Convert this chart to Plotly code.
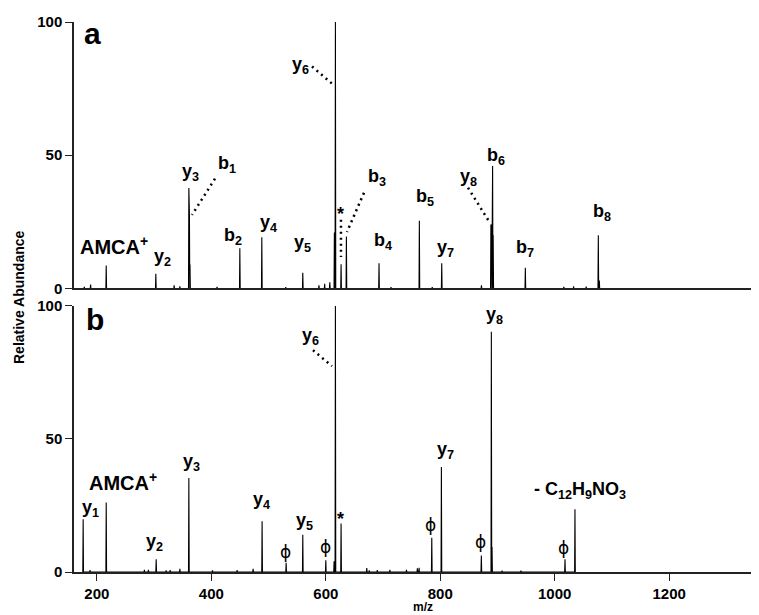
import plotly.graph_objects as go

# ---------------- data (m/z, relative abundance) ----------------
mz_a = [178, 189, 216.3, 303, 335, 345, 360.7, 361.7, 362.7, 410, 449.8, 488.2, 530,
        559.8, 588, 598, 607, 615, 616.8, 626.7, 636, 693, 714, 763.5, 786, 802.6,
        872, 888.5, 889.5, 890.5, 891.5, 892.5, 948.7, 1016, 1033, 1055, 1076.2, 1078]
int_a = [0.6, 1.5, 8.6, 5.5, 1.2, 0.8, 37.7, 28, 9, 0.6, 15.1, 19.2, 0.5,
         5.9, 1.2, 1.8, 2.3, 21, 100, 9.1, 19.5, 9.5, 0.5, 25.4, 0.5, 9.5,
         1.2, 24, 23.5, 23, 46, 20, 7.8, 0.6, 0.8, 0.7, 20, 3]

mz_b = [176, 188, 216.3, 283, 290, 303.6, 321, 328, 345, 360.7, 402, 445, 473,
        488.7, 530.7, 559.8, 600, 614.5, 616.8, 626.7, 671.6, 676, 690, 712, 741,
        760, 763, 785.2, 802, 871.8, 889.3, 890.5, 908, 941, 1018, 1035.4]
int_b = [19.8, 0.7, 26.1, 0.8, 0.8, 4.8, 0.6, 0.7, 1.2, 35.3, 0.6, 0.7, 1.2,
         19.1, 3.5, 14, 4.4, 4, 100, 18.2, 1.5, 0.6, 0.7, 0.8, 0.8,
         1.4, 1.6, 12.9, 39.4, 6.2, 90.2, 9.4, 0.5, 0.5, 4.8, 23.6]

# annotations: (text, m/z, intensity)
labels_a = [("a", 191.5, 95.5), ("y<sub>6</sub>", 556, 83.5), ("y<sub>3</sub>", 363, 43.5),
            ("b<sub>1</sub>", 428, 46.5), ("b<sub>2</sub>", 438, 19.5), ("y<sub>4</sub>", 499, 24.5),
            ("AMCA<sup>+</sup>", 230, 16), ("y<sub>2</sub>", 314, 11.5), ("y<sub>5</sub>", 560, 17),
            ("*", 626.5, 28), ("b<sub>3</sub>", 690, 41.5), ("b<sub>4</sub>", 700, 17.5),
            ("b<sub>5</sub>", 774, 34), ("y<sub>7</sub>", 810, 15), ("y<sub>8</sub>", 850, 41.5),
            ("b<sub>6</sub>", 897.5, 49.5), ("b<sub>7</sub>", 948, 15), ("b<sub>8</sub>", 1083, 28.5)]
leaders_a = [(575.9, 83.3, 610.8, 76.9), (406.4, 41.2, 366.2, 27.6), (626.5, 25.8, 626.5, 11.8),
             (666.7, 35.9, 637.0, 21.2), (848.5, 37.8, 886.9, 24.6)]

labels_b = [("b", 196.7, 95), ("y<sub>6</sub>", 573, 88.5), ("AMCA<sup>+</sup>", 246, 34),
            ("y<sub>1</sub>", 188, 24), ("y<sub>3</sub>", 364.5, 41), ("y<sub>2</sub>", 301.5, 11),
            ("y<sub>4</sub>", 487, 27), ("ϕ", 530.4, 7.4), ("y<sub>5</sub>", 562, 19),
            ("ϕ", 599.8, 9.3), ("*", 626.5, 20), ("y<sub>8</sub>", 894, 96.5),
            ("y<sub>7</sub>", 808.5, 45.5), ("ϕ", 782.6, 17.6), ("ϕ", 870, 11.2),
            ("ϕ", 1016.2, 8.9), ("- C<sub>12</sub>H<sub>9</sub>NO<sub>3</sub>", 1044, 30.5)]
leaders_b = [(577.6, 83.3, 610.8, 77.3)]

x_ticks = [200, 400, 600, 800, 1000, 1200]
y_ticks = [0, 50, 100]


def stick_trace(mz, inten, xa, ya, hw=0.6):
    xs, ys = [], []
    for m, v in sorted(zip(mz, inten)):
        xs += [m - hw, m, m + hw]
        ys += [0, v, 0]
    return go.Scatter(x=xs, y=ys, mode="lines", xaxis=xa, yaxis=ya,
                      line=dict(color="black", width=1.1), hoverinfo="skip")


fig = go.Figure()
fig.add_trace(stick_trace(mz_a, int_a, "x", "y"))
fig.add_trace(stick_trace(mz_b, int_b, "x2", "y2"))

FONT = "Liberation Sans, Arial, sans-serif"
XR = [160, 1357]
axis_common = dict(showgrid=False, zeroline=False, showline=True, linecolor="#222",
                   linewidth=1.5, ticks="outside", ticklen=7, tickcolor="#222",
                   tickwidth=1.3, tickfont=dict(family=FONT, size=15, color="black", weight="bold"))

# page body has an 8px margin: figure is shrunk so the plot area lands where the reference has it
fig.update_layout(
    width=751, height=607, margin=dict(l=66, r=0, t=14, b=43),
    paper_bgcolor="white", plot_bgcolor="white", showlegend=False,
    xaxis=dict(domain=[0, 1], range=XR, anchor="y", showticklabels=False, ticks="",
               showgrid=False, zeroline=False, showline=True, linecolor="#222", linewidth=1.5),
    yaxis=dict(domain=[0.5155, 1], range=[0, 100], anchor="x", tickvals=y_ticks, **axis_common),
    xaxis2=dict(domain=[0, 1], range=XR, anchor="y2", tickvals=x_ticks, **axis_common),
    yaxis2=dict(domain=[0, 0.4842], range=[0, 100], anchor="x2", tickvals=y_ticks, **axis_common),
)

annotations = []
for ref, labels in (("", labels_a), ("2", labels_b)):
    for txt, xv, yv in labels:
        if txt == "ϕ":
            font = dict(family="DejaVu Sans, sans-serif", size=17, color="black")
            text = txt
        else:
            size = 30 if txt in ("a", "b") else (20 if "AMCA" in txt else 18)
            font = dict(family=FONT, size=size, color="black")
            text = "<b>%s</b>" % txt
        annotations.append(dict(text=text, x=xv, y=yv, xref="x" + ref, yref="y" + ref,
                                showarrow=False, xanchor="center", yanchor="middle", font=font))

# titles placed in screen pixels, converted to paper coords (plot area 74..759 x 22..572)
titles = [("<b>Relative Abundance</b>", 19, 297, -90, 14), ("<b>m/z</b>", 423, 607, 0, 12)]
for txt, px, py, ang, sz in titles:
    annotations.append(dict(text=txt, x=(px - 74) / 685, y=(572 - py) / 550, xref="paper",
                            yref="paper", showarrow=False, textangle=ang,
                            xanchor="center", yanchor="middle",
                            font=dict(family=FONT, size=sz, color="black")))
fig.update_layout(annotations=annotations)

shapes = []
for ref, leaders in (("", leaders_a), ("2", leaders_b)):
    for x0, y0, x1, y1 in leaders:
        shapes.append(dict(type="line", x0=x0, y0=y0, x1=x1, y1=y1, xref="x" + ref,
                           yref="y" + ref, line=dict(color="black", width=2.5, dash="2px,4px")))
fig.update_layout(shapes=shapes)

fig.write_html("out.html")
